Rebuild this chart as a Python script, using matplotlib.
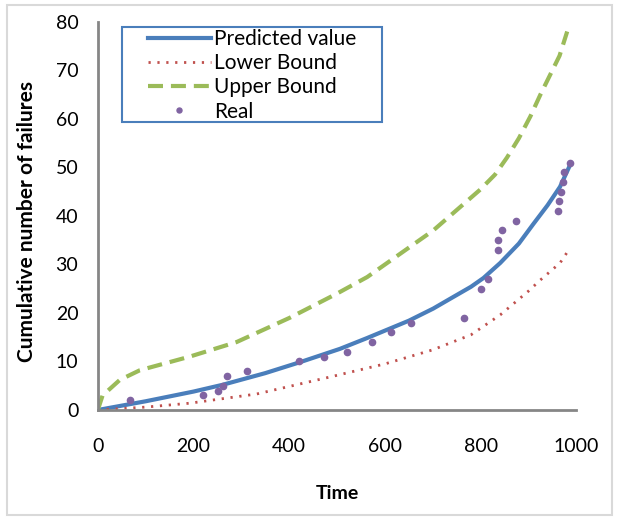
import matplotlib
matplotlib.use('Agg')
import matplotlib.pyplot as plt
from matplotlib.patches import Rectangle

# values
pred_x = [0, 100, 200, 261, 350, 424, 506, 562, 650, 701, 736, 780, 806, 841, 880, 910, 940, 966, 987]
pred_y = [0, 1.8, 3.8, 5.2, 7.6, 9.9, 12.6, 14.8, 18.4, 20.9, 22.9, 25.4, 27.2, 30.3, 34.3, 38.3, 42.2, 46, 50.5]

low_x = [0, 100, 192, 332, 485, 600, 700, 780, 841, 900, 925, 966, 987]
low_y = [0, 0.6, 1.4, 3.3, 6.8, 9.5, 12.4, 15.5, 19.6, 24.5, 26.8, 30.3, 33.4]

up_x = [0, 10, 46, 88, 192, 290, 401, 500, 563, 701, 799, 830, 855, 880, 904, 925, 945, 965, 981]
up_y = [0, 3, 6.2, 8.2, 11, 14, 19, 24, 27.4, 37, 45.4, 48.5, 52, 56, 60.5, 65, 69, 73, 78]

real_x = [67, 220, 251, 262, 271, 312, 420, 473, 520, 573, 613, 654, 766, 801,
          815, 837, 837, 845, 874, 962, 964, 968, 973, 975, 987]
real_y = [2, 3, 4, 5, 7, 8, 10, 11, 12, 14, 16, 18, 19, 25,
          27, 33, 35, 37, 39, 41, 43, 45, 47, 49, 51]

plt.rcParams['font.family'] = ['Lato', 'DejaVu Sans']

W, H = 619, 519
fig = plt.figure(figsize=(W / 100, H / 100), dpi=100)
ax = fig.add_axes([0.158, 0.21, 0.773, 0.748])

ax.plot(pred_x, pred_y, color='#4a7ebb', linewidth=3, label='Predicted value')
ax.plot(low_x, low_y, color='#c0504d', linewidth=2, linestyle=(0, (0.8, 2.4)),
        label='Lower Bound')
ax.plot(up_x, up_y, color='#9bbb59', linewidth=3, linestyle=(0, (3.6, 1.9)),
        label='Upper Bound')
ax.plot(real_x, real_y, linestyle='none', marker='o', markersize=4.5,
        color='#8064a2', label='Real')

ax.set_xlim(0, 1000)
ax.set_ylim(0, 80)
ax.set_xticks(range(0, 1001, 200))
ax.set_yticks(range(0, 81, 10))
ax.tick_params(length=0, labelsize=14, colors='#000000')
ax.tick_params(axis='y', pad=14)
ax.tick_params(axis='x', pad=20)
for s in ['top', 'right']:
    ax.spines[s].set_visible(False)
for s in ['left', 'bottom']:
    ax.spines[s].set_color('#868686')
    ax.spines[s].set_linewidth(2)

ax.set_xlabel('Time', fontsize=14, fontweight='bold', labelpad=22)
ax.set_ylabel('Cumulative number of failures', fontsize=15, fontweight='bold')
ax.yaxis.set_label_coords(-0.128, 0.485)

# legend entries without frame, box drawn separately (Excel-style wide box)
leg = ax.legend(loc='upper left', bbox_to_anchor=(148 / W, 1 - 29 / H),
                bbox_transform=fig.transFigure, frameon=False, fontsize=15,
                handlelength=3.0, borderaxespad=0, labelspacing=0.2,
                handletextpad=0.15, borderpad=0, markerscale=0.8)
fig.patches.append(Rectangle((122 / W, 1 - 122 / H), 260 / W, 95 / H,
                             transform=fig.transFigure, fill=False,
                             edgecolor='#4a7ebb', linewidth=1.5))

fig.patches.append(Rectangle((0.012, 0.008), 0.976, 0.982, transform=fig.transFigure,
                             fill=False, edgecolor='#d9d9d9', linewidth=1.5))

fig.savefig('out.png', dpi=100)
